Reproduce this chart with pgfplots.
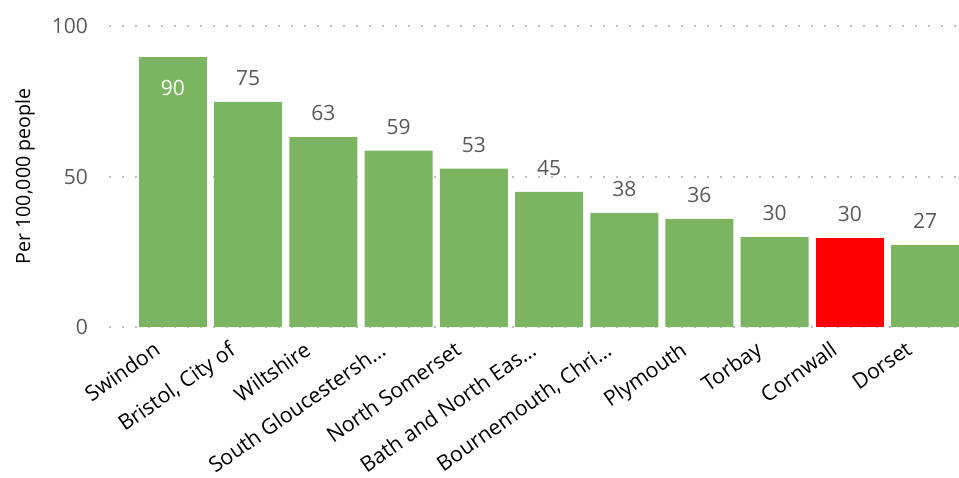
\documentclass[border=0pt]{standalone}
\usepackage{fontspec}
\setmainfont{Open Sans}
\usepackage{pgfplots}
\pgfplotsset{compat=1.18}
\definecolor{bargreen}{RGB}{123,181,97}
\definecolor{tickgray}{RGB}{89,89,89}
\definecolor{gridgray}{RGB}{191,191,191}
\begin{document}
\begin{tikzpicture}
\useasboundingbox (-54.5pt,-75pt) rectangle (425pt,163.5pt);
\begin{axis}[
  at={(0,0)}, anchor=south west,
  scale only axis, width=425pt, height=150.5pt,
  xmin=-0.85, xmax=10.45, ymin=0, ymax=100,
  clip=false,
  axis line style={draw=none},
  tick style={draw=none},
  major tick length=0pt,
  ytick={0,50,100},
  ymajorgrids,
  grid style={gridgray, line width=1pt, dash pattern=on 1pt off 5.5pt},
  xtick={0,...,10},
  xticklabels={Swindon,{Bristol, City of},Wiltshire,South Gloucestersh\dots,North Somerset,Bath and North Eas\dots,{Bournemouth, Chri\dots},Plymouth,Torbay,Cornwall,Dorset},
  xticklabel style={font=\fontsize{10.6}{12}\selectfont, anchor=north east, inner sep=1pt, xshift=-10pt, yshift=-5pt, rotate=35},
  yticklabel style={font=\fontsize{10.5}{12}\selectfont, text=tickgray, xshift=-7pt},
  /pgf/number format/assume math mode=true,
  ylabel={Per 100,000 people},
  every axis y label/.style={at={(axis description cs:0,0.5)}, xshift=-42pt, rotate=90, anchor=center, font=\fontsize{9.8}{11}\selectfont},
  ybar, bar width=34pt,
  nodes near coords,
  nodes near coords style={font=\fontsize{10.5}{12}\selectfont, text=tickgray, anchor=center, yshift=12pt, /pgf/number format/fixed, /pgf/number format/precision=0, /pgf/number format/assume math mode=true},
]
\addplot[fill=bargreen, draw=none, bar shift=0pt, nodes near coords style={text=white, yshift=-27.5pt}] coordinates {(0,89.7)};
\addplot[fill=bargreen, draw=none, bar shift=0pt] coordinates {(1,74.8) (2,63.1) (3,58.6) (4,52.6) (5,44.9) (6,37.9) (7,35.9) (8,29.9) (10,27.2)};
\addplot[fill=red, draw=none, bar shift=0pt] coordinates {(9,29.6)};
\end{axis}
\end{tikzpicture}
\end{document}
